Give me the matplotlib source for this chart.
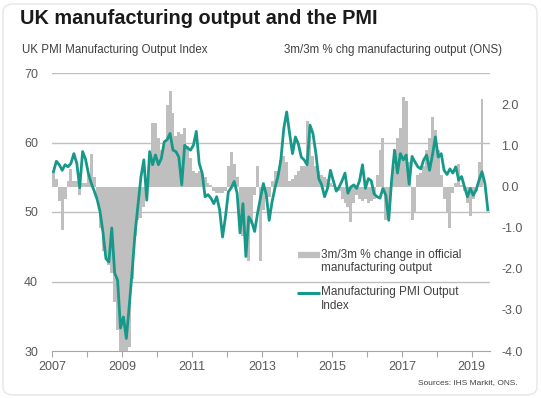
import matplotlib
matplotlib.use("Agg")
import matplotlib.pyplot as plt
from matplotlib.lines import Line2D
from matplotlib.patches import FancyBboxPatch
import numpy as np

plt.rcParams['font.family'] = ['Liberation Sans', 'DejaVu Sans']
plt.rcParams['axes.unicode_minus'] = False

# Monthly data starting Jan 2007
start_year = 2007
pmi_output = [
    55.8, 57.3, 56.8, 56.0, 56.8, 56.5, 57.0, 58.4, 57.0, 53.5, 58.7, 57.6,   # 2007
    55.5, 54.1, 53.0, 51.8, 50.0, 47.0, 43.3, 42.8, 47.7, 41.2, 40.2, 33.3,   # 2008
    34.9, 31.8, 36.5, 41.5, 47.0, 51.0, 55.0, 57.5, 51.7, 58.7, 56.8, 58.2,   # 2009
    56.8, 57.7, 60.1, 60.4, 61.3, 58.9, 58.7, 57.9, 53.9, 59.6, 59.2, 58.9,   # 2010
    59.6, 61.6, 57.0, 55.6, 52.2, 52.5, 52.0, 51.2, 52.2, 50.3, 46.4, 49.3,   # 2011
    52.9, 53.5, 54.4, 52.7, 47.0, 51.2, 43.6, 49.3, 48.6, 47.2, 49.8, 52.0,   # 2012
    54.1, 52.5, 48.8, 51.5, 53.5, 55.1, 57.5, 62.0, 64.4, 61.3, 58.4, 60.8,   # 2013
    59.8, 57.9, 57.5, 56.8, 62.5, 61.3, 58.5, 54.8, 53.9, 52.2, 53.4, 56.0,   # 2014
    54.5, 53.0, 53.6, 54.5, 55.6, 52.7, 53.6, 53.9, 53.4, 54.5, 56.8, 53.4,   # 2015
    54.8, 54.5, 52.6, 52.2, 52.0, 53.4, 52.4, 48.8, 54.6, 58.9, 55.6, 58.4,   # 2016
    57.5, 58.2, 54.0, 58.0, 57.2, 56.5, 56.2, 57.5, 58.2, 56.0, 58.2, 60.8,   # 2017
    57.9, 58.4, 56.0, 55.4, 56.2, 55.6, 56.5, 54.6, 55.1, 53.6, 52.2, 53.4,   # 2018
    52.4, 53.2, 54.6, 55.8, 54.1, 50.3,                                       # 2019
]
ons_3m3m = [
    0.35, 0.2, -0.35, -1.05, -0.3, 0.15, 0.45, 0.15, 0.15, -0.2, 0.1, 0.1,    # 2007
    0.3, 0.8, 0.25, -0.3, -1.0, -1.55, -1.6, -1.9, -2.1, -2.8, -3.5, -4.0,    # 2008
    -4.0, -4.0, -3.9, -2.25, -1.2, -0.8, -0.75, -0.5, 0.15, 0.6, 1.55, 1.55,  # 2009
    1.2, 0.9, 1.1, 2.0, 2.35, 1.8, 1.25, 1.35, 1.3, 1.45, 1.0, 0.7,           # 2010
    0.4, 0.35, 0.4, 0.3, 0.25, 0.1, 0.05, -0.1, -0.15, -0.15, -0.15, -0.1,    # 2011
    0.5, 0.85, 0.55, 0.25, -0.9, -1.2, -1.4, -1.8, -0.9, -0.2, 0.5, -1.8,     # 2012
    -0.55, -0.3, -0.25, 0.15, 0.4, 0.4, 0.65, 0.75, 0.6, 0.15, 0.2, 0.3,      # 2013
    0.4, 0.5, 0.5, 1.6, 1.25, 0.75, 0.5, 0.4, 0.3, 0.25, 0.2, 0.1,            # 2014
    0.05, -0.05, -0.1, -0.3, -0.4, -0.5, -0.85, -0.4, -0.2, -0.3, -0.35, -0.3,  # 2015
    -0.4, -0.35, -0.3, 0.3, 0.9, 1.2, -0.8, -0.5, 0.1, 0.5, 1.2, 1.45,        # 2016
    2.2, 2.1, 0.6, -0.8, -0.6, 0.3, 0.35, 0.5, 0.9, 1.2, 1.7, 1.4,            # 2017
    0.9, 0.3, -0.3, -0.6, -1.0, -0.15, 0.1, 0.55, 0.05, -0.1, -0.4, -0.7,    # 2018
    -0.3, -0.1, 0.6, 2.15,                                                    # 2019
]
left_ticks = [30, 40, 50, 60, 70]
right_ticks = [-4.0, -3.0, -2.0, -1.0, 0.0, 1.0, 2.0]
year_labels = [2007, 2009, 2011, 2013, 2015, 2017, 2019]

title = "UK manufacturing output and the PMI"
left_label = "UK PMI Manufacturing Output Index"
right_label = "3m/3m % chg manufacturing output (ONS)"
bar_name = ["3m/3m % change in official", "manufacturing output"]
line_name = ["Manufacturing PMI Output", "Index"]
source = "Sources: IHS Markit, ONS."

TEAL = "#17998a"
GREY = "#bfbfbf"
TXT = "#595959"

W, H = 541, 398
fig = plt.figure(figsize=(W / 100, H / 100), dpi=100)
fig.patch.set_facecolor("white")

# rounded frame
frame = FancyBboxPatch((3 / W, 3 / H), 1 - 7 / W, 1 - 7 / H,
                       boxstyle="round,pad=0,rounding_size=0.02",
                       transform=fig.transFigure, facecolor="none",
                       edgecolor="#e6e6e6", linewidth=1.0)
fig.patches.append(frame)

x0, x1, ybot, ytop = 52, 490, 351, 73
ax1 = fig.add_axes([x0 / W, 1 - ybot / H, (x1 - x0) / W, (ybot - ytop) / H])
ax2 = ax1.twinx()
ax1.set_zorder(ax2.get_zorder() + 1)
ax1.patch.set_visible(False)

xb = start_year + np.arange(len(ons_3m3m)) / 12
ax2.bar(xb, ons_3m3m, width=1 / 12, align='edge', color=GREY, linewidth=0)
ax2.set_ylim(-4, 2.78)
ax2.set_yticks(right_ticks)
ax2.set_yticklabels([f"{v:.1f}" for v in right_ticks])

xl = start_year + np.arange(len(pmi_output)) / 12 + 1 / 24
ax1.plot(xl, pmi_output, color=TEAL, lw=2.0, solid_joinstyle='round')
ax1.set_ylim(30, 70)
ax1.set_yticks(left_ticks)
ax1.set_xlim(2007, 2019.52)
ax1.set_xticks(np.arange(2007, 2020))
ax1.set_xticklabels([str(y) if y in year_labels else "" for y in range(2007, 2020)])
for y in [40, 50, 60, 70]:
    ax1.axhline(y, color=GREY, lw=1.0, zorder=0)

for a in (ax1, ax2):
    for s in ['top', 'left', 'right', 'bottom']:
        a.spines[s].set_visible(False)
ax1.spines['bottom'].set_visible(True)
ax1.spines['bottom'].set_color("#a6a6a6")
ax1.tick_params(axis='x', direction='out', length=4, color="#a6a6a6",
                labelsize=9, labelcolor=TXT, pad=3)
ax1.tick_params(axis='y', length=0, labelsize=9, labelcolor=TXT, pad=10)
ax2.tick_params(axis='y', length=0, labelsize=9, labelcolor=TXT, pad=8)
ax2.tick_params(axis='x', length=0)

fig.text(20 / W, 1 - 19 / H, title, fontsize=14.3, fontweight='bold',
         color="#1a1a1a", va='center', ha='left')
fig.text(22 / W, 1 - 50 / H, left_label, fontsize=8.3, color="#404040",
         va='center', ha='left')
fig.text(502 / W, 1 - 50 / H, right_label, fontsize=8.3, color="#404040",
         va='center', ha='right')
fig.text(518 / W, 1 - 383 / H, source, fontsize=6, color="#404040",
         va='center', ha='right')

# manual legend (handles aligned with first text line)
def fx(px):
    return px / W

def fy(py):
    return 1 - py / H

fig.add_artist(Line2D([fx(298), fx(320)], [fy(255), fy(255)], color=GREY,
                      lw=4.5, transform=fig.transFigure, solid_capstyle='butt'))
fig.add_artist(Line2D([fx(297), fx(320)], [fy(293), fy(293)], color=TEAL,
                      lw=2.2, transform=fig.transFigure, solid_capstyle='butt'))
for i, s in enumerate(bar_name):
    fig.text(fx(321), fy(255 + 13.5 * i), s, fontsize=8.5, color="#404040",
             va='center', ha='left')
for i, s in enumerate(line_name):
    fig.text(fx(321), fy(292 + 14 * i), s, fontsize=8.5, color="#404040",
             va='center', ha='left')

fig.savefig("out.png", dpi=100, facecolor="white")
